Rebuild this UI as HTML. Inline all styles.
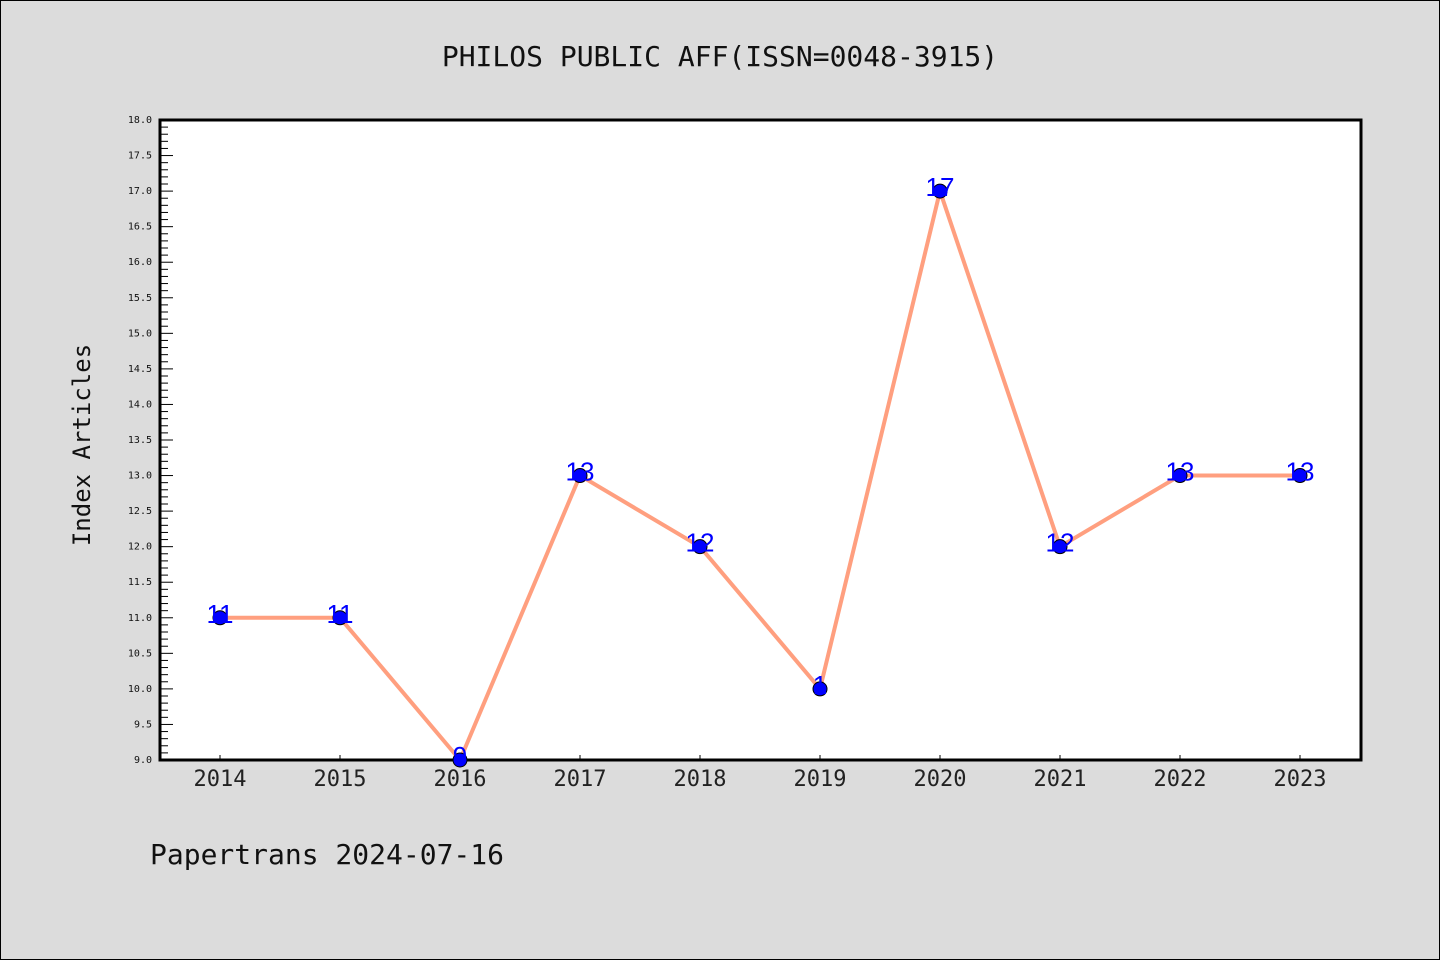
<!DOCTYPE html>
<html><head><meta charset="utf-8"><style>
body{margin:0;background:#dcdcdc;}
#wrap{position:relative;width:1438px;height:958px;border:1px solid #000;background:#dcdcdc;overflow:hidden}
text{font-family:"DejaVu Sans Mono","Liberation Mono",monospace}
</style></head><body>
<div id="wrap">
<svg id="svg" width="1440" height="960" style="position:absolute;left:-1px;top:-1px">
<text x="720" y="66" text-anchor="middle" font-size="28" fill="#111">PHILOS PUBLIC AFF(ISSN=0048-3915)</text>
<text transform="translate(90,445) rotate(-90)" text-anchor="middle" font-size="24" fill="#111">Index Articles</text>
<text x="150" y="864" font-size="28" fill="#111">Papertrans 2024-07-16</text>
<rect x="160" y="120" width="1201" height="640" fill="#fff" stroke="#000" stroke-width="3"/>
<g id="g"></g>
</svg>
</div>
<script>
const years=["2014","2015","2016","2017","2018","2019","2020","2021","2022","2023"];
const values=[11,11,9,13,12,10,17,12,13,13];
const pointLabels=["11","11","9","13","12","1","17","12","13","13"];
const yTicks=["9.0","9.5","10.0","10.5","11.0","11.5","12.0","12.5","13.0","13.5","14.0","14.5","15.0","15.5","16.0","16.5","17.0","17.5","18.0"];
const yMin=9,yMax=18,top_=120,bot=760,left=160;
const xs=i=>220+i*120;
const ys=v=>bot-(v-yMin)/(yMax-yMin)*(bot-top_);
const g=document.getElementById('g');const NS='http://www.w3.org/2000/svg';
function mk(t,a){const e=document.createElementNS(NS,t);for(const k in a)e.setAttribute(k,a[k]);g.appendChild(e);return e;}
for(let k=0;k<=90;k++){const v=yMin+k*0.1;const y=ys(v);const major=k%5===0;
 const l=mk('line',{x1:left,x2:left+(major?13:8),y1:y,y2:y,stroke:'#000','stroke-width':1});
 
 }
yTicks.forEach(t=>{const e=mk('text',{x:152,y:ys(parseFloat(t))+3,'text-anchor':'end','font-size':10,fill:'#111'});e.textContent=t;
 
 });
years.forEach((yr,i)=>{const l=mk('line',{x1:xs(i),x2:xs(i),y1:bot,y2:bot-5,stroke:'#000','stroke-width':1});
 
 
 const e=mk('text',{x:xs(i),y:bot+26,'text-anchor':'middle','font-size':22,fill:'#222'});e.textContent=yr;
 
 });
const pl=mk('polyline',{points:values.map((v,i)=>xs(i)+','+ys(v)).join(' '),fill:'none',stroke:'#ff9f7f','stroke-width':4});


values.forEach((v,i)=>{const c=mk('circle',{cx:xs(i),cy:ys(v),r:7,fill:'#0000ff',stroke:'#000','stroke-width':1});
 
 
 const e=mk('text',{x:xs(i),y:ys(v)+5,'text-anchor':'middle','font-size':26,fill:'#0000ff','font-family':'Liberation Sans, sans-serif'});
 e.setAttribute('style','font-family:"Liberation Sans",sans-serif');e.textContent=pointLabels[i];
 
 });
</script>
</body></html>
